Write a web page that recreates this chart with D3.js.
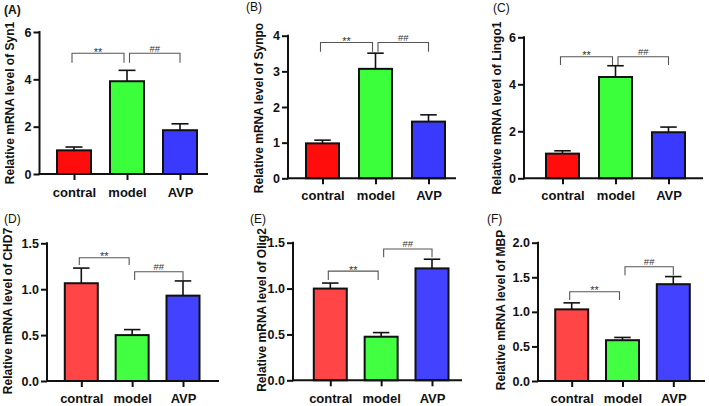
<!DOCTYPE html>
<html>
<head>
<meta charset="utf-8">
<script src="https://cdn.jsdelivr.net/npm/d3@7"></script>
<style>
  html, body { margin: 0; padding: 0; background: #ffffff; }
  svg { display: block; }
  text { font-family: "Liberation Sans", Arial, sans-serif; }
</style>
</head>
<body>
<svg id="chart" width="709" height="406"></svg>
<script>
// ---------------- data ----------------
const categories = ["contral", "model", "AVP"];

const syn1Values   = [1.00, 3.92, 1.85];
const syn1Errors   = [0.14, 0.46, 0.27];
const synpoValues  = [0.98, 3.07, 1.59];
const synpoErrors  = [0.09, 0.44, 0.19];
const lingo1Values = [1.05, 4.31, 1.96];
const lingo1Errors = [0.12, 0.48, 0.22];
const chd7Values   = [1.065, 0.50, 0.93];
const chd7Errors   = [0.165, 0.06, 0.16];
const olig2Values  = [1.00, 0.475, 1.22];
const olig2Errors  = [0.06, 0.045, 0.10];
const mbpValues    = [1.036, 0.59, 1.40];
const mbpErrors    = [0.094, 0.04, 0.11];

const ticks6   = [0, 2, 4, 6];
const ticks4   = [0, 1, 2, 3, 4];
const ticks15  = [0, 0.5, 1.0, 1.5];
const ticks20  = [0, 0.5, 1.0, 1.5, 2.0];

const panelLabels = ["(A)", "(B)", "(C)", "(D)", "(E)", "(F)"];
const yTitles = [
  "Relative mRNA level of Syn1",
  "Relative mRNA level of Synpo",
  "Relative mRNA level of Lingo1",
  "Relative mRNA level of CHD7",
  "Relative mRNA level of Olig2",
  "Relative mRNA level of MBP"
];
// significance brackets: [fromIdx, toIdx, level, endLevel, label]
const bracketsA = [[0, 1, 5.10, 4.70, "**"], [1, 2, 5.10, 4.70, "##"]];
const bracketsB = [[0, 1, 3.81, 3.55, "**"], [1, 2, 3.81, 3.55, "##"]];
const bracketsC = [[0, 1, 5.17, 4.82, "**"], [1, 2, 5.17, 4.82, "##"]];
const bracketsD = [[0, 1, 1.343, 1.264, "**"], [1, 2, 1.19, 1.10, "##"]];
const bracketsE = [[0, 1, 1.19, 1.094, "**"], [1, 2, 1.432, 1.341, "##"]];
const bracketsF = [[0, 1, 1.29, 1.17, "**"], [1, 2, 1.652, 1.53, "##"]];

// ---------------- layout ----------------
const topColors = ["#ff0d0d", "#3cff3c", "#3a3aff"];
const botColors = ["#ff4545", "#42ff42", "#4242ff"];

const panels = [
  { values: syn1Values,   errors: syn1Errors,   ticks: ticks6,  max: 6,   fmt: d3.format("d"),   brackets: bracketsA,
    axisX: 39.5,  xEnd: 208, c0: 74,    c2: 180,   yTop: 32,    y0: 174,   titleX: 10,    titleY: 103, labX: 4,   labY: 14,  labBold: true,  catY: 197, barW: 34, colors: topColors },
  { values: synpoValues,  errors: synpoErrors,  ticks: ticks4,  max: 4,   fmt: d3.format("d"),   brackets: bracketsB,
    axisX: 288,   xEnd: 456, c0: 322.5, c2: 428.5, yTop: 35.7,  y0: 178.3, titleX: 259,   titleY: 108, labX: 246, labY: 11,  labBold: false, catY: 200, barW: 33, colors: topColors },
  { values: lingo1Values, errors: lingo1Errors, ticks: ticks6,  max: 6,   fmt: d3.format("d"),   brackets: bracketsC,
    axisX: 524,   xEnd: 703, c0: 562.5, c2: 668.5, yTop: 37.3,  y0: 178.3, titleX: 497,   titleY: 108, labX: 493, labY: 12,  labBold: false, catY: 200, barW: 33, colors: topColors },
  { values: chd7Values,   errors: chd7Errors,   ticks: ticks15, max: 1.5, fmt: d3.format(".1f"), brackets: bracketsD,
    axisX: 47,    xEnd: 219, c0: 81.3,  c2: 183,   yTop: 243.3, y0: 381,   titleX: 8,     titleY: 311, labX: 4,   labY: 223, labBold: false, catY: 403, barW: 33, colors: botColors },
  { values: olig2Values,  errors: olig2Errors,  ticks: ticks15, max: 1.5, fmt: d3.format(".1f"), brackets: bracketsE,
    axisX: 293,   xEnd: 462, c0: 330.3, c2: 432,   yTop: 242.7, y0: 380.3, titleX: 261.5, titleY: 310, labX: 250, labY: 223, labBold: false, catY: 403, barW: 33, colors: botColors },
  { values: mbpValues,    errors: mbpErrors,    ticks: ticks20, max: 2.0, fmt: d3.format(".1f"), brackets: bracketsF,
    axisX: 538,   xEnd: 705, c0: 571.7, c2: 673.3, yTop: 242.7, y0: 381,   titleX: 500.5, titleY: 310, labX: 487, labY: 223, labBold: false, catY: 403, barW: 33, colors: botColors }
];

const svg = d3.select("#chart");

panels.forEach((p, i) => {
  const g = svg.append("g");
  const x = d3.scalePoint().domain(categories).range([p.c0, p.c2]);
  const y = d3.scaleLinear().domain([0, p.max]).range([p.y0, p.yTop]);

  // panel label
  g.append("text")
    .attr("x", p.labX).attr("y", p.labY)
    .style("font-size", "12px").style("font-weight", p.labBold ? "bold" : "normal")
    .attr("fill", "#111")
    .text(panelLabels[i]);

  // y title
  g.append("text")
    .attr("transform", `translate(${p.titleX},${p.titleY}) rotate(-90)`)
    .attr("text-anchor", "middle").attr("dominant-baseline", "central")
    .style("font-size", "12px").style("font-weight", "bold").attr("fill", "#111")
    .text(yTitles[i]);

  // bars
  g.selectAll("rect.bar").data(p.values).enter().append("rect")
    .attr("class", "bar")
    .attr("x", (d, j) => x(categories[j]) - p.barW / 2)
    .attr("width", p.barW)
    .attr("y", d => y(d))
    .attr("height", d => y(0) - y(d))
    .attr("fill", (d, j) => p.colors[j])
    .attr("stroke", "#111").attr("stroke-width", 2);

  // error bars (upper only)
  const capW = p.barW / 2;
  p.values.forEach((v, j) => {
    const cx = x(categories[j]);
    const top = v + p.errors[j];
    g.append("line").attr("x1", cx).attr("x2", cx)
      .attr("y1", y(v)).attr("y2", y(top))
      .attr("stroke", "#111").attr("stroke-width", 1.6);
    g.append("line").attr("x1", cx - capW / 2).attr("x2", cx + capW / 2)
      .attr("y1", y(top)).attr("y2", y(top))
      .attr("stroke", "#111").attr("stroke-width", 1.6);
  });

  // y axis
  const yAxis = d3.axisLeft(y).tickValues(p.ticks).tickFormat(p.fmt).tickSize(6).tickPadding(2);
  const ya = g.append("g").attr("transform", `translate(${p.axisX},0)`).call(yAxis);
  ya.attr("font-size", null).attr("font-family", null);
  ya.select(".domain").remove();
  ya.selectAll(".tick line").attr("stroke", "#111").attr("stroke-width", 2);
  ya.selectAll(".tick text")
    .style("font-size", "12.5px").style("font-weight", "bold")
    .style("font-family", "'Liberation Sans', Arial, sans-serif")
    .attr("fill", "#111");
  g.append("line").attr("x1", p.axisX).attr("x2", p.axisX)
    .attr("y1", p.yTop - 1).attr("y2", p.y0 + 1)
    .attr("stroke", "#111").attr("stroke-width", 2);

  // x axis
  const xAxis = d3.axisBottom(x).tickSize(6).tickPadding(6);
  const xa = g.append("g").attr("transform", `translate(0,${p.y0})`).call(xAxis);
  xa.attr("font-size", null).attr("font-family", null);
  xa.select(".domain").remove();
  xa.selectAll(".tick line").attr("stroke", "#111").attr("stroke-width", 2);
  xa.selectAll(".tick text")
    .style("font-size", "13px").style("font-weight", "bold")
    .style("font-family", "'Liberation Sans', Arial, sans-serif")
    .attr("fill", "#111").attr("dy", null).attr("y", p.catY - p.y0);
  g.append("line").attr("x1", p.axisX - 1).attr("x2", p.xEnd)
    .attr("y1", p.y0).attr("y2", p.y0)
    .attr("stroke", "#111").attr("stroke-width", 2);

  // significance brackets
  p.brackets.forEach(b => {
    const [a, c, lev, endLev, lab] = b;
    const xa1 = x(categories[a]) + (a === 0 ? -2 : 2.5);
    const xa2 = x(categories[c]) + (c === 1 ? -3 : 0);
    const yl = y(lev), ye = y(endLev);
    g.append("path")
      .attr("d", `M${xa1},${ye}V${yl}H${xa2}V${ye}`)
      .attr("fill", "none").attr("stroke", "#555").attr("stroke-width", 1.1);
    const isStar = lab === "**";
    g.append("text")
      .attr("x", (xa1 + xa2) / 2).attr("y", isStar ? yl + 2.5 : yl - 1.5)
      .attr("text-anchor", "middle")
      .style("font-size", isStar ? "11px" : "9.5px").attr("fill", "#333")
      .text(lab);
  });
});
</script>
</body>
</html>
